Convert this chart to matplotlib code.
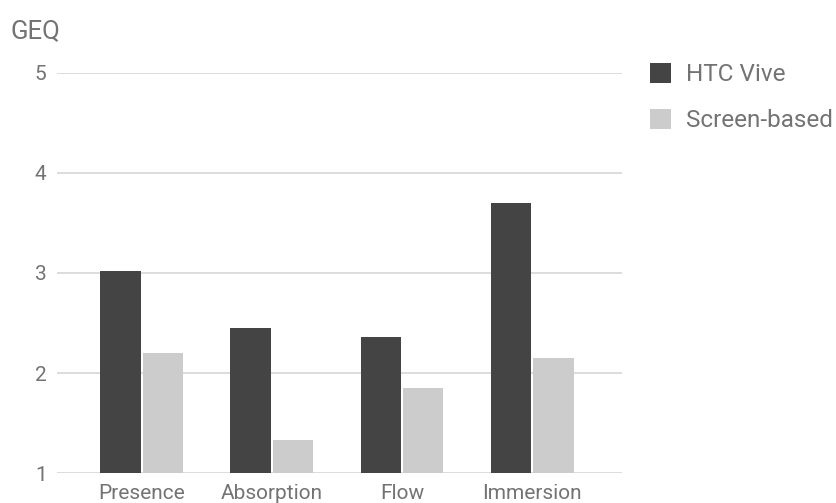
import matplotlib
matplotlib.use("Agg")
import matplotlib.pyplot as plt
import numpy as np

categories = ["Presence", "Absorption", "Flow", "Immersion"]
htc_vive = [3.02, 2.45, 2.36, 3.70]
screen_based = [2.20, 1.33, 1.85, 2.15]
series_names = ["HTC Vive", "Screen-based"]
yticks = [1, 2, 3, 4, 5]

plt.rcParams['font.family'] = ['Roboto', 'DejaVu Sans']
text_col = "#737373"

fig = plt.figure(figsize=(8.37, 5.03), dpi=100)
ax = fig.add_axes([57 / 837, 1 - 473.3 / 503, 565 / 837, 400.6 / 503])

x = np.arange(len(categories))
w = 0.31
gap = 0.008
b1 = ax.bar(x - w / 2 - gap, np.array(htc_vive) - 1, w, bottom=1,
            color="#444444", label=series_names[0], zorder=3)
b2 = ax.bar(x + w / 2 + gap, np.array(screen_based) - 1, w, bottom=1,
            color="#cccccc", label=series_names[1], zorder=3)

ax.set_ylim(1, 5)
ax.set_xlim(-0.65, 3.69)
ax.set_yticks(yticks)
ax.set_xticks(x)
ax.set_xticklabels(categories)
ax.grid(axis="y", color="#d6d6d6", linewidth=1.2, zorder=0)
ax.set_axisbelow(True)
for s in ax.spines.values():
    s.set_visible(False)
ax.tick_params(axis="both", length=0, labelsize=15, colors=text_col)
ax.tick_params(axis="y", pad=7.5)
ax.tick_params(axis="x", pad=8)

fig.text(10 / 837, 1 - 31 / 503, "GEQ", fontsize=18.5, color=text_col,
         va="center", ha="left")

leg = ax.legend(loc="upper left", bbox_to_anchor=(650 / 837, 1 - 63 / 503),
                bbox_transform=fig.transFigure, frameon=False,
                handlelength=0.86, handleheight=0.86, handletextpad=0.63,
                labelspacing=0.95, fontsize=17.5, borderaxespad=0,
                borderpad=0)
for t in leg.get_texts():
    t.set_color(text_col)

fig.savefig("out.png", dpi=100)
